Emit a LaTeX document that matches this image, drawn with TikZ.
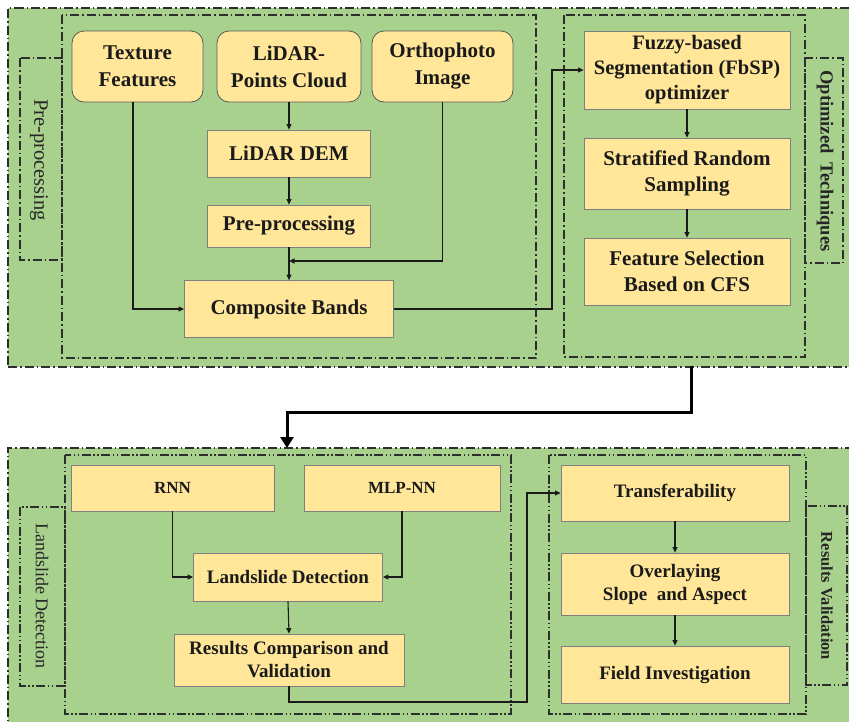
\documentclass[tikz,border=0pt]{standalone}
\usepackage{fontspec}
\setmainfont{Liberation Serif}
\usetikzlibrary{arrows.meta}
\definecolor{panelgreen}{HTML}{A9D18E}
\definecolor{boxfill}{HTML}{FFE699}
\definecolor{boxline}{HTML}{7F7F7F}
\definecolor{frameline}{HTML}{2E2E2E}
\definecolor{txt}{HTML}{1A1A1A}
\tikzset{
  panel/.style={draw=frameline, fill=panelgreen, line width=1.1pt,
    dash pattern=on 9pt off 3pt on 1.5pt off 3pt, inner sep=0pt},
  frameA/.style={draw=frameline, line width=1.1pt,
    dash pattern=on 9pt off 3pt on 1.5pt off 3pt},
  frameB/.style={draw=frameline, line width=1.1pt,
    dash pattern=on 9pt off 2.5pt on 1.5pt off 2.5pt on 1.5pt off 2.5pt},
  box/.style={draw=boxline, fill=boxfill, line width=0.8pt, align=center,
    text=txt, inner sep=0pt, font=\bfseries\fontsize{21}{27}\selectfont},
  rbox/.style={box, draw=black!65, rounded corners=12pt},
  lowbox/.style={box, font=\bfseries\fontsize{19}{23}\selectfont},
  smallbox/.style={box, font=\bfseries\fontsize{17}{20}\selectfont},
  conn/.style={draw=txt, line width=1.1pt, -{Triangle[width=5pt,length=5.5pt]}},
  bigconn/.style={draw=black, line width=3pt, -{Triangle[width=13pt,length=11pt]}},
  vlabel/.style={rotate=-90, text=black!85, inner sep=0pt},
}
\begin{document}
\begin{tikzpicture}[x=1pt,y=-1pt]
\useasboundingbox (0,0) rectangle (849,721);
\clip (0,0) rectangle (849,721);
\fill[white] (0,0) rectangle (849,721);

% panels
\node[panel, minimum width=843pt, minimum height=359pt] (toppanel) at (429.5,187.5) {};
\node[panel, minimum width=843pt, minimum height=282pt] (botpanel) at (429.5,589) {};

% frames top
\draw[frameA] (62,15) rectangle (536,358);
\draw[frameA] (20,58) rectangle (62,260);
\draw[frameA] (564,15) rectangle (805,357);
\draw[frameA] (805,58) rectangle (843,263);
\node[vlabel, font=\fontsize{20.5}{24}\selectfont] (lblpre) at (39,160) {Pre-processing};
\node[vlabel, font=\bfseries\fontsize{18.5}{22}\selectfont] (lblopt) at (825,161) {Optimized\ \ Techniques};

% frames bottom
\draw[frameB] (65,455) rectangle (511,714);
\draw[frameB] (20,507) rectangle (65,686);
\draw[frameB] (549,455) rectangle (806,714);
\draw[frameB] (806,506) rectangle (847,685);
\node[vlabel, font=\fontsize{18}{22}\selectfont] (lblld) at (42,596) {Landslide Detection};
\node[vlabel, font=\bfseries\fontsize{16.5}{20}\selectfont] (lblrv) at (827,596) {Results Validation};

% top boxes
\node[rbox, minimum width=131pt, minimum height=71pt] (tex) at (137.5,66.5) {Texture\\Features};
\node[rbox, minimum width=144pt, minimum height=71pt] (lidar) at (289,66.5) {LiDAR-\\Points Cloud};
\node[rbox, minimum width=141pt, minimum height=71pt] (ortho) at (442.5,66.5) {Orthophoto\\Image};
\node[box, minimum width=163pt, minimum height=47pt] (dem) at (289,153.5) {LiDAR DEM};
\node[box, minimum width=163pt, minimum height=42pt] (pre) at (289,226) {Pre-processing};
\node[box, minimum width=209pt, minimum height=57pt] (comp) at (289,309) {Composite Bands};

\node[box, minimum width=206pt, minimum height=78pt, font=\bfseries\fontsize{20.5}{25}\selectfont] (fuzzy) at (687,70) {Fuzzy-based\\Segmentation (FbSP)\\optimizer};
\node[box, minimum width=206pt, minimum height=71pt, font=\bfseries\fontsize{21}{25.5}\selectfont] (strat) at (687,173.5) {Stratified Random\\Sampling};
\node[box, minimum width=206pt, minimum height=67pt, font=\bfseries\fontsize{21}{26}\selectfont] (feat) at (687,271.5) {Feature Selection\\Based on CFS};

% bottom boxes
\node[smallbox, minimum width=203pt, minimum height=46pt] (rnn) at (172.5,488) {RNN};
\node[smallbox, minimum width=196pt, minimum height=46pt] (mlp) at (402,488) {MLP-NN};
\node[lowbox, minimum width=189pt, minimum height=48pt] (ld) at (288,577) {Landslide Detection};
\node[lowbox, minimum width=230pt, minimum height=52pt] (rc) at (289,660) {Results Comparison and\\Validation};
\node[lowbox, minimum width=228pt, minimum height=56pt] (trans) at (675,493) {Transferability};
\node[lowbox, minimum width=228pt, minimum height=62pt] (over) at (675,584) {Overlaying\\Slope\ \ and Aspect};
\node[lowbox, minimum width=228pt, minimum height=57pt] (field) at (675,674.5) {Field Investigation};

% connectors top
\coordinate (j1) at (289,261);
\coordinate (c1) at (552,309);
\draw[conn] ([xshift=-4.5pt]tex.south) |- (comp.west);
\draw[conn] (lidar.south) -- (dem.north);
\draw[conn] (dem.south) -- (pre.north);
\draw[conn] (pre.south) -- (comp.north);
\draw[conn] (ortho.south) |- (j1);
\draw[conn] (comp.east) -- (c1) |- (fuzzy.west);
\draw[conn] (fuzzy.south) -- (strat.north);
\draw[conn] (strat.south) -- (feat.north);

% big connector
\coordinate (t1) at (691,366);
\coordinate (t2) at (691,412);
\coordinate (b1) at (287,448);
\draw[bigconn] (t1) -- (t2) -| (b1);

% connectors bottom
\coordinate (r1) at (527,702);
\draw[conn] (rnn.south) |- (ld.west);
\draw[conn] (mlp.south) |- (ld.east);
\draw[conn] (ld.south) -- (rc.north);
\draw[conn] (rc.south) |- (r1) |- (trans.west);
\draw[conn] (trans.south) -- (over.north);
\draw[conn] (over.south) -- (field.north);
\end{tikzpicture}
\end{document}
